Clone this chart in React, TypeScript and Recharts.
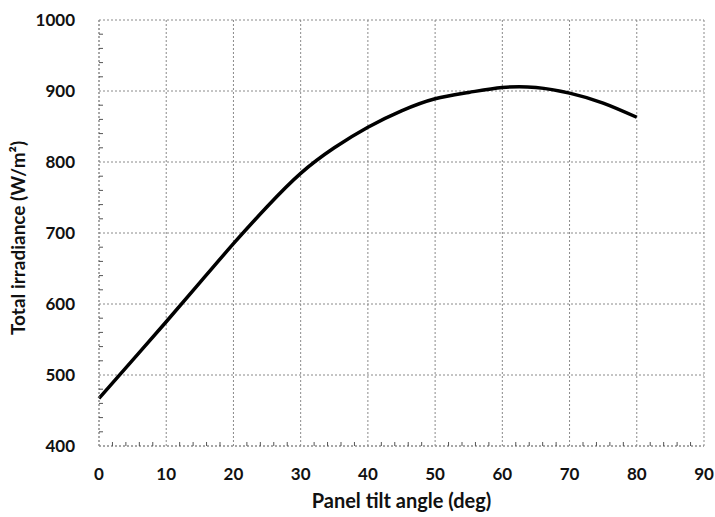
import { CartesianGrid, Line, LineChart, XAxis, YAxis } from "recharts";

const tiltAngles = [0, 5, 10, 15, 20, 25, 30, 35, 40, 45, 50, 55, 60, 65, 70, 75, 80];
const irradiance = [467, 521, 575, 630, 685, 737, 784, 820, 849, 872, 889, 898, 905, 905, 897, 883, 863];

const xTicks = [0, 10, 20, 30, 40, 50, 60, 70, 80, 90];
const yTicks = [400, 500, 600, 700, 800, 900, 1000];
const xMinorTicks = [2, 4, 6, 8, 12, 14, 16, 18, 22, 24, 26, 28, 32, 34, 36, 38, 42, 44, 46, 48, 52, 54, 56, 58, 62, 64, 66, 68, 72, 74, 76, 78, 82, 84, 86, 88];
const yMinorTicks = [420, 440, 460, 480, 520, 540, 560, 580, 620, 640, 660, 680, 720, 740, 760, 780, 820, 840, 860, 880, 920, 940, 960, 980];

const data = tiltAngles.map((angle, i) => ({ angle, value: irradiance[i] }));

const font = "Lato, 'Open Sans', sans-serif";
const gridStroke = "#8a8a8a";

const emptyTick = () => <g />;

export default function App() {
  return (
    <div style={{ position: "absolute", left: 0, top: 0, background: "#fff" }}>
      <LineChart width={715} height={517} data={data} margin={{ top: 20, right: 11, left: 0, bottom: 0 }}>
        <CartesianGrid
          xAxisId="main"
          yAxisId="main"
          stroke={gridStroke}
          strokeDasharray="2 2"
          strokeWidth={1}
        />
        <XAxis
          xAxisId="main"
          dataKey="angle"
          type="number"
          domain={[0, 90]}
          ticks={xTicks}
          height={71}
          tickLine={false}
          axisLine={{ stroke: gridStroke, strokeDasharray: "2 2" }}
          tick={{ fontSize: 17, fontWeight: 700, fill: "#111", fontFamily: font }}
          tickMargin={16}
          label={{ value: "Panel tilt angle (deg)", position: "insideBottom", offset: 9, fontSize: 20, fontWeight: 700, fill: "#111", fontFamily: font }}
        />
        {/* minor ticks along the bottom, pointing inward */}
        <XAxis
          xAxisId="minor"
          dataKey="angle"
          type="number"
          domain={[0, 90]}
          ticks={xMinorTicks}
          interval={0}
          mirror
          height={4}
          axisLine={false}
          tickSize={4}
          tickLine={{ stroke: "#555" }}
          tick={emptyTick}
        />
        <YAxis
          yAxisId="main"
          type="number"
          domain={[400, 1000]}
          ticks={yTicks}
          width={99}
          tickLine={false}
          axisLine={{ stroke: gridStroke, strokeDasharray: "2 2" }}
          tick={{ fontSize: 17, fontWeight: 700, fill: "#111", fontFamily: font }}
          tickMargin={18}
          label={{ value: "Total irradiance (W/m²)", angle: -90, position: "insideLeft", offset: 18, dy: 102, fontSize: 19, fontWeight: 700, fill: "#111", fontFamily: font }}
        />
        <YAxis
          yAxisId="minor"
          type="number"
          domain={[400, 1000]}
          ticks={yMinorTicks}
          interval={0}
          mirror
          width={4}
          axisLine={false}
          tickSize={4}
          tickLine={{ stroke: "#555" }}
          tick={emptyTick}
        />
        {/* invisible series so the minor axes get drawn */}
        <Line
          xAxisId="minor"
          yAxisId="minor"
          dataKey="value"
          stroke="none"
          dot={false}
          activeDot={false}
          legendType="none"
          isAnimationActive={false}
        />
        <Line
          xAxisId="main"
          yAxisId="main"
          type="natural"
          dataKey="value"
          stroke="#000"
          strokeWidth={3.5}
          dot={false}
          isAnimationActive={false}
        />
      </LineChart>
    </div>
  );
}
